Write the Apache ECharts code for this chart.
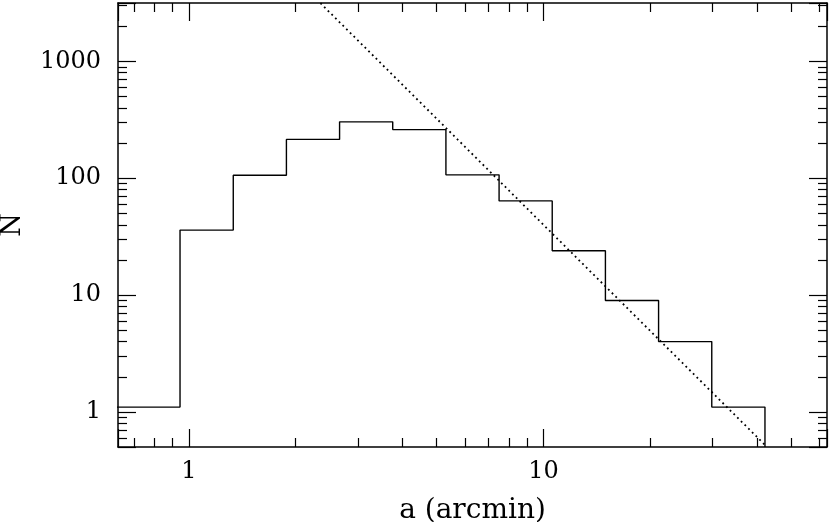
<!DOCTYPE html>
<html>
<head>
<meta charset="utf-8">
<script src="https://cdn.jsdelivr.net/npm/echarts@6/dist/echarts.min.js"></script>
<style>
    html, body { margin: 0; padding: 0; background: #fff; }
    #main { width: 830px; height: 522px; }
</style>
</head>
<body>
<div id="main"></div>
<script>
// histogram: bin edges (arcmin) and counts per bin
var binEdges = [0.47, 0.944, 1.334, 1.884, 2.661, 3.758, 5.309, 7.499, 10.59, 14.96, 21.13, 29.85, 42.17];
var binCounts = [1.1, 36, 106, 215, 304, 261, 107, 64, 24, 9, 4, 1.1];

// dotted power-law line, its two end points
var fitA = [2.35, 42.5];
var fitN = [3150, 0.51];

// axis ranges (log10) and minor tick positions
var xLogRange = [-0.2, 1.8];
var yLogRange = [-0.3, 3.5];
var xMinorTicks = [0.7, 0.8, 0.9, 2, 3, 4, 5, 6, 7, 8, 9, 20, 30, 40, 50, 60];
var yMinorTicks = [0.6, 0.7, 0.8, 0.9, 2, 3, 4, 5, 6, 7, 8, 9, 20, 30, 40, 50, 60, 70, 80, 90,
    200, 300, 400, 500, 600, 700, 800, 900, 2000, 3000];

var FONT = 'DejaVu Serif';

function powLabel(v) {
    var l = Math.log10(v);
    if (Math.abs(l - Math.round(l)) > 1e-6) return '';   // only 1, 10, 100 ...
    return String(Math.round(v));
}

// major ticks + labels, log axis
function majorAxis(pos, range, showLabel, margin) {
    return {
        type: 'log',
        logBase: 10,
        position: pos,
        min: Math.pow(10, range[0]),
        max: Math.pow(10, range[1]),
        axisLine: { show: true, onZero: false, lineStyle: { color: '#000', width: 1.5 } },
        axisTick: { show: true, inside: true, length: 18, lineStyle: { color: '#000', width: 1.2 } },
        minorTick: { show: false },
        axisLabel: {
            show: showLabel, margin: margin, formatter: powLabel,
            color: '#000', fontFamily: FONT, fontSize: 24
        },
        splitLine: { show: false }
    };
}

// minor ticks only, drawn on a linear axis in log10 space
function minorAxis(pos, range, ticks) {
    return {
        type: 'value',
        position: pos,
        min: range[0],
        max: range[1],
        axisLine: { show: false, onZero: false },
        axisTick: {
            show: true, inside: true, length: 9,
            customValues: ticks.map(function (t) { return Math.log10(t); }),
            lineStyle: { color: '#000', width: 1.2 }
        },
        axisLabel: { show: false },
        splitLine: { show: false }
    };
}

function loadChart() {
    var myChart = echarts.init(document.getElementById('main'));

    var histData = [];
    for (var i = 0; i < binCounts.length; i++) {
        histData.push([binEdges[i], binCounts[i]]);
    }
    // last edge drops to the bottom of the plot
    histData.push([binEdges[binEdges.length - 1], Math.pow(10, yLogRange[0])]);

    var fitData = [];
    for (var j = 0; j < fitA.length; j++) {
        fitData.push([fitA[j], fitN[j]]);
    }

    var xName = majorAxis('bottom', xLogRange, true, 13);
    xName.name = 'a (arcmin)';
    xName.nameLocation = 'middle';
    xName.nameGap = 50;
    xName.nameTextStyle = { color: '#000', fontFamily: FONT, fontSize: 28 };

    var yName = majorAxis('left', yLogRange, true, 17);
    yName.name = 'N';
    yName.nameLocation = 'middle';
    yName.nameRotate = 90;
    yName.nameGap = 92;
    yName.nameTextStyle = { color: '#000', fontFamily: FONT, fontSize: 27 };

    var option = {
        animation: false,
        backgroundColor: '#fff',
        grid: { left: 118, right: 3, top: 3, bottom: 75, outerBoundsMode: 'none', containLabel: false },
        xAxis: [
            xName,
            majorAxis('top', xLogRange, false, 0),
            minorAxis('bottom', xLogRange, xMinorTicks),
            minorAxis('top', xLogRange, xMinorTicks)
        ],
        yAxis: [
            yName,
            majorAxis('right', yLogRange, false, 0),
            minorAxis('left', yLogRange, yMinorTicks),
            minorAxis('right', yLogRange, yMinorTicks)
        ],
        series: [
            {
                name: 'hist', type: 'line', step: 'end',
                xAxisIndex: 0, yAxisIndex: 0,
                symbol: 'none', clip: true,
                lineStyle: { color: '#000', width: 1.4 },
                data: histData
            },
            {
                name: 'fit', type: 'line',
                xAxisIndex: 0, yAxisIndex: 0,
                symbol: 'none', clip: true,
                lineStyle: { color: '#000', width: 1.8, type: [1.8, 3.4] },
                data: fitData
            }
        ]
    };
    myChart.setOption(option);
}

loadChart();
</script>
</body>
</html>
